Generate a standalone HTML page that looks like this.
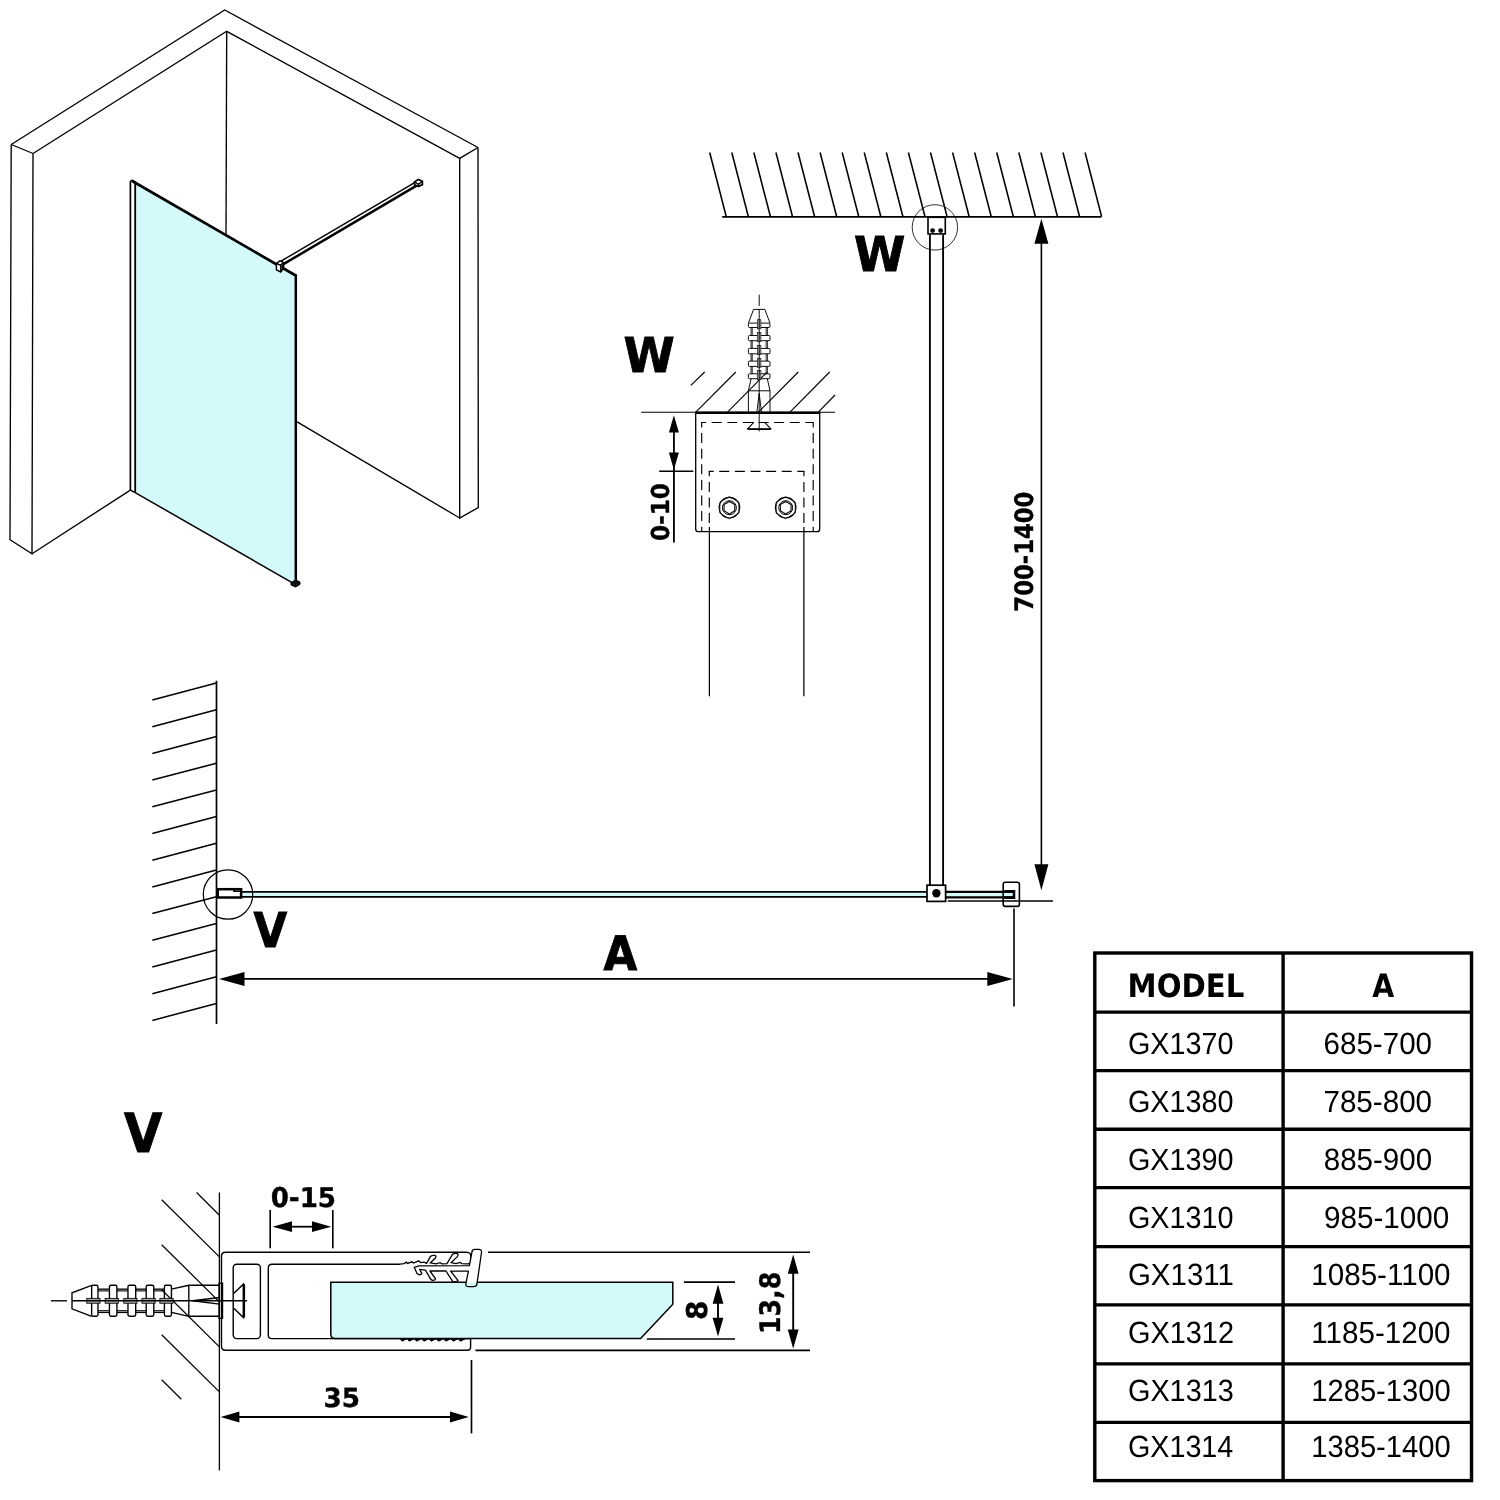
<!DOCTYPE html>
<html lang="cs">
<head>
<meta charset="utf-8">
<title>GX13xx – technical drawing</title>
<style>
html,body{margin:0;padding:0;background:#fff;}
body{width:1500px;height:1500px;overflow:hidden;font-family:"Liberation Sans","DejaVu Sans",sans-serif;}
svg{display:block;filter:contrast(1);}
svg text{fill:#000;stroke:none;text-rendering:geometricPrecision;}
</style>
</head>
<body>
<svg width="1500" height="1500" viewBox="0 0 1500 1500" fill="none" stroke="#000" stroke-linecap="butt" stroke-linejoin="miter">
<rect x="0" y="0" width="1500" height="1500" fill="#fff" stroke="none"/>
<g id="iso">
<polyline points="11.2,144.5 224.7,10 478,147.5" stroke-width="1.35" fill="none"/>
<polyline points="33,153.5 226.7,31.3 459.7,158.3" stroke-width="1.35" fill="none"/>
<polyline points="11.2,144.5 33,153.5" stroke-width="1.35" fill="none"/>
<polyline points="11.2,144.5 10,539.7 32,553.7 33,153.5" stroke-width="1.35" fill="none"/>
<polyline points="478,147.5 459.7,158.3" stroke-width="1.35" fill="none"/>
<polyline points="478,147.5 478.3,507.5 459.7,518 459.7,158.3" stroke-width="1.35" fill="none"/>
<line x1="226.7" y1="31.3" x2="226" y2="236" stroke-width="1.35"/>
<polyline points="32,553.7 130.4,490.1" stroke-width="1.35" fill="none"/>
<polyline points="296.7,421.7 459.7,518" stroke-width="1.35" fill="none"/>
<polyline points="280.9,261.2 415.5,182.2" stroke-width="1.45" fill="none"/>
<polyline points="283,264.4 417,185.4" stroke-width="2.5" fill="none"/>
<polygon points="414.4,182 418.4,179.4 422.4,181.4 422.4,184.6 418.4,186.6 414.6,184.8" stroke-width="1.7" fill="#fff"/>
<polyline points="414.6,182.2 418.4,184 422.4,181.6" stroke-width="1.3" fill="none"/>
<line x1="418.4" y1="184" x2="418.4" y2="186.6" stroke-width="1.6"/>
<polygon points="135.2,182.7 296,275.7 296,584.9 135.2,492.6" stroke-width="0" fill="#d3f9fa" stroke="none"/>
<polyline points="130.4,490.1 130.4,181.6 132.2,180.2 135.6,182.4" stroke-width="1.7" fill="none"/>
<line x1="135.2" y1="183" x2="135.2" y2="492.6" stroke-width="1.8"/>
<line x1="132.2" y1="181" x2="296.6" y2="276" stroke-width="2.7"/>
<line x1="295.8" y1="275" x2="295.8" y2="583" stroke-width="2.5"/>
<polyline points="130.4,490.1 135.2,492.6 295.6,584.7" stroke-width="1.5" fill="none"/>
<polygon points="276.4,263.5 279.9,260.8 283.6,262.4 283.6,268.3 280.7,272 276.4,269.9" stroke-width="1.5" fill="#fff"/>
<polyline points="276.4,263.5 280.7,265.1 283.6,262.4" stroke-width="1.4" fill="none"/>
<line x1="280.7" y1="265.1" x2="280.7" y2="272" stroke-width="1.5"/>
<polygon points="281.4,265.6 283.2,263.8 283.2,268 281.4,270.4" stroke-width="0" fill="#000" stroke="none"/>
<polygon points="291,582.6 295.6,580 300,582 300,584.4 295.6,587 291,585" stroke-width="1" fill="#111"/>
</g>
<g id="plan">
<line x1="709.7" y1="152.5" x2="726.3" y2="216.8" stroke-width="1.55"/>
<line x1="731.78" y1="152.5" x2="748.38" y2="216.8" stroke-width="1.55"/>
<line x1="753.86" y1="152.5" x2="770.46" y2="216.8" stroke-width="1.55"/>
<line x1="775.94" y1="152.5" x2="792.54" y2="216.8" stroke-width="1.55"/>
<line x1="798.02" y1="152.5" x2="814.62" y2="216.8" stroke-width="1.55"/>
<line x1="820.1" y1="152.5" x2="836.7" y2="216.8" stroke-width="1.55"/>
<line x1="842.18" y1="152.5" x2="858.78" y2="216.8" stroke-width="1.55"/>
<line x1="864.26" y1="152.5" x2="880.86" y2="216.8" stroke-width="1.55"/>
<line x1="886.34" y1="152.5" x2="902.94" y2="216.8" stroke-width="1.55"/>
<line x1="908.42" y1="152.5" x2="925.02" y2="216.8" stroke-width="1.55"/>
<line x1="930.5" y1="152.5" x2="947.1" y2="216.8" stroke-width="1.55"/>
<line x1="952.58" y1="152.5" x2="969.18" y2="216.8" stroke-width="1.55"/>
<line x1="974.66" y1="152.5" x2="991.26" y2="216.8" stroke-width="1.55"/>
<line x1="996.74" y1="152.5" x2="1013.34" y2="216.8" stroke-width="1.55"/>
<line x1="1018.82" y1="152.5" x2="1035.42" y2="216.8" stroke-width="1.55"/>
<line x1="1040.9" y1="152.5" x2="1057.5" y2="216.8" stroke-width="1.55"/>
<line x1="1062.98" y1="152.5" x2="1079.58" y2="216.8" stroke-width="1.55"/>
<line x1="1085.06" y1="152.5" x2="1101.66" y2="216.8" stroke-width="1.55"/>
<line x1="722.2" y1="216.9" x2="1101.3" y2="216.9" stroke-width="1.75"/>
<circle cx="934.9" cy="227.4" r="22.7" stroke-width="0.8" fill="none"/>
<rect x="928" y="216.9" width="17.3" height="17" stroke-width="1.6" fill="none"/>
<line x1="927.2" y1="217.1" x2="946.1" y2="217.1" stroke-width="2"/>
<circle cx="932.6" cy="230.6" r="2.4" stroke-width="0" fill="#000" stroke="none"/>
<circle cx="940.6" cy="230.6" r="2.4" stroke-width="0" fill="#000" stroke="none"/>
<line x1="929.9" y1="234.5" x2="929.9" y2="885.4" stroke-width="1.85"/>
<line x1="943.1" y1="234.5" x2="943.1" y2="885.4" stroke-width="1.85"/>
<line x1="1041.4" y1="240" x2="1041.4" y2="868" stroke-width="1.6"/>
<polygon points="1041.4,218.8 1048.4,243.8 1034.4,243.8" fill="#000" stroke="none"/>
<polygon points="1041.4,890.2 1034.4,864.2 1048.4,864.2" fill="#000" stroke="none"/>
<text transform="translate(1032.94 611.66) rotate(-90) scale(0.8893 1)" font-family="'DejaVu Sans', 'Liberation Sans', sans-serif" font-weight="bold" font-size="25.54" style="stroke:#000;stroke-width:0.35px;stroke-linejoin:miter">700-1400</text>
<text transform="translate(853.95 271.05) scale(0.9703 1)" font-family="'DejaVu Sans', 'Liberation Sans', sans-serif" font-weight="bold" font-size="47.95" style="stroke:#000;stroke-width:0.9px;stroke-linejoin:miter">W</text>
<line x1="152.3" y1="700" x2="216.4" y2="683.1" stroke-width="1.5"/>
<line x1="152.3" y1="726.7" x2="216.4" y2="709.8" stroke-width="1.5"/>
<line x1="152.3" y1="753.4" x2="216.4" y2="736.5" stroke-width="1.5"/>
<line x1="152.3" y1="780.1" x2="216.4" y2="763.2" stroke-width="1.5"/>
<line x1="152.3" y1="806.8" x2="216.4" y2="789.9" stroke-width="1.5"/>
<line x1="152.3" y1="833.5" x2="216.4" y2="816.6" stroke-width="1.5"/>
<line x1="152.3" y1="860.2" x2="216.4" y2="843.3" stroke-width="1.5"/>
<line x1="152.3" y1="886.9" x2="216.4" y2="870" stroke-width="1.5"/>
<line x1="152.3" y1="913.6" x2="216.4" y2="896.7" stroke-width="1.5"/>
<line x1="152.3" y1="940.3" x2="216.4" y2="923.4" stroke-width="1.5"/>
<line x1="152.3" y1="967" x2="216.4" y2="950.1" stroke-width="1.5"/>
<line x1="152.3" y1="993.7" x2="216.4" y2="976.8" stroke-width="1.5"/>
<line x1="152.3" y1="1020.4" x2="216.4" y2="1003.5" stroke-width="1.5"/>
<line x1="216.5" y1="680.7" x2="216.5" y2="1024" stroke-width="1.7"/>
<rect x="241.3" y="891.6" width="771.7" height="5.6" stroke-width="0" fill="#d3f9fa" stroke="none"/>
<line x1="241.3" y1="891.8" x2="927" y2="891.8" stroke-width="1.8"/>
<line x1="241.3" y1="896.9" x2="927" y2="896.9" stroke-width="1.8"/>
<line x1="945.6" y1="891.8" x2="1013" y2="891.8" stroke-width="2.3"/>
<line x1="945.6" y1="897.3" x2="1013" y2="897.3" stroke-width="2.3"/>
<circle cx="228" cy="894.5" r="24.7" stroke-width="1.2" fill="none"/>
<rect x="217.7" y="889.2" width="23.4" height="8.3" stroke-width="2.5" fill="#fff"/>
<polyline points="234,889.6 234,891.2 240,891.2" stroke-width="1.6" fill="none"/>
<rect x="927" y="885.2" width="18.6" height="16.2" stroke-width="1.7" fill="#fff"/>
<circle cx="936.4" cy="893.2" r="4.2" stroke-width="0" fill="#000" stroke="none"/>
<line x1="947.8" y1="901" x2="1053" y2="901" stroke-width="1.6"/>
<rect x="1003.2" y="882.2" width="16.2" height="24.2" rx="2.2" stroke-width="1.6" fill="none"/>
<polyline points="1004.4,891.4 1014,891.4 1014,897.6 1004.4,897.6" stroke-width="2.6" fill="none"/>
<line x1="1014" y1="908.4" x2="1014" y2="1006.6" stroke-width="1.6"/>
<line x1="240" y1="978.9" x2="990" y2="978.9" stroke-width="1.6"/>
<polygon points="219,979 244.5,972 244.5,986" fill="#000" stroke="none"/>
<polygon points="1012.8,979 987.3,986 987.3,972" fill="#000" stroke="none"/>
<text transform="translate(603.43 969.65) scale(0.9160 1)" font-family="'DejaVu Sans', 'Liberation Sans', sans-serif" font-weight="bold" font-size="47.53" style="stroke:#000;stroke-width:0.9px;stroke-linejoin:miter">A</text>
<text transform="translate(253.43 947.05) scale(0.9081 1)" font-family="'DejaVu Sans', 'Liberation Sans', sans-serif" font-weight="bold" font-size="47.95" style="stroke:#000;stroke-width:0.9px;stroke-linejoin:miter">V</text>
</g>
<g id="detW">
<text transform="translate(623.46 371.55) scale(0.9656 1)" font-family="'DejaVu Sans', 'Liberation Sans', sans-serif" font-weight="bold" font-size="48.08" style="stroke:#000;stroke-width:0.9px;stroke-linejoin:miter">W</text>
<line x1="690.8" y1="385.3" x2="704.7" y2="372" stroke-width="1.15"/>
<line x1="695.8" y1="412.2" x2="735.8" y2="372" stroke-width="1.15"/>
<line x1="727.5" y1="412.2" x2="766.7" y2="372.5" stroke-width="1.15"/>
<line x1="758.3" y1="412.2" x2="798.3" y2="372" stroke-width="1.15"/>
<line x1="790" y1="412.2" x2="829.7" y2="372" stroke-width="1.15"/>
<line x1="818.3" y1="412.2" x2="835" y2="395" stroke-width="1.15"/>
<line x1="641.3" y1="412.2" x2="835" y2="412.2" stroke-width="1.1"/>
<g transform="translate(759.2 309.4)">
<line x1="0" y1="-14.7" x2="0" y2="-3.5" stroke-width="0.95"/>
<polyline points="-10.8,13.7 -5.6,0 5.6,0 10.8,13.7" stroke-width="0.95" fill="none"/>
<rect x="-10.8" y="13.7" width="21.6" height="4.4" rx="1" stroke-width="0.95" fill="none"/>
<rect x="-1.7" y="10.3" width="3.4" height="9.2" stroke-width="0.6" fill="#aaa"/>
<rect x="-10.8" y="26.1" width="21.6" height="5.2" rx="1" stroke-width="0.95" fill="none"/>
<line x1="-8.1" y1="18.1" x2="-8.1" y2="26.1" stroke-width="0.95"/>
<line x1="8.1" y1="18.1" x2="8.1" y2="26.1" stroke-width="0.95"/>
<line x1="-6.9" y1="18.1" x2="-6.9" y2="26.1" stroke-width="0.76"/>
<line x1="6.9" y1="18.1" x2="6.9" y2="26.1" stroke-width="0.76"/>
<rect x="-1.7" y="23.1" width="3.4" height="9.2" stroke-width="0.6" fill="#aaa"/>
<rect x="-10.8" y="39" width="21.6" height="5.4" rx="1" stroke-width="0.95" fill="none"/>
<line x1="-8.1" y1="31.3" x2="-8.1" y2="39" stroke-width="0.95"/>
<line x1="8.1" y1="31.3" x2="8.1" y2="39" stroke-width="0.95"/>
<line x1="-6.9" y1="31.3" x2="-6.9" y2="39" stroke-width="0.76"/>
<line x1="6.9" y1="31.3" x2="6.9" y2="39" stroke-width="0.76"/>
<rect x="-1.7" y="36.1" width="3.4" height="9.2" stroke-width="0.6" fill="#aaa"/>
<rect x="-10.8" y="51.7" width="21.6" height="5.3" rx="1" stroke-width="0.95" fill="none"/>
<line x1="-8.1" y1="44.4" x2="-8.1" y2="51.7" stroke-width="0.95"/>
<line x1="8.1" y1="44.4" x2="8.1" y2="51.7" stroke-width="0.95"/>
<line x1="-6.9" y1="44.4" x2="-6.9" y2="51.7" stroke-width="0.76"/>
<line x1="6.9" y1="44.4" x2="6.9" y2="51.7" stroke-width="0.76"/>
<rect x="-1.7" y="48.75" width="3.4" height="9.2" stroke-width="0.6" fill="#aaa"/>
<rect x="-10.8" y="64.4" width="21.6" height="4.9" rx="1" stroke-width="0.95" fill="none"/>
<line x1="-8.1" y1="57" x2="-8.1" y2="64.4" stroke-width="0.95"/>
<line x1="8.1" y1="57" x2="8.1" y2="64.4" stroke-width="0.95"/>
<line x1="-6.9" y1="57" x2="-6.9" y2="64.4" stroke-width="0.76"/>
<line x1="6.9" y1="57" x2="6.9" y2="64.4" stroke-width="0.76"/>
<rect x="-1.7" y="61.25" width="3.4" height="9.2" stroke-width="0.6" fill="#aaa"/>
<polyline points="-8.1,69.3 -10.8,81.4 -10.8,102.9" stroke-width="0.95" fill="none"/>
<polyline points="8.1,69.3 10.8,81.4 10.8,102.9" stroke-width="0.95" fill="none"/>
<line x1="-10.8" y1="81.4" x2="10.8" y2="81.4" stroke-width="0.95"/>
<line x1="0" y1="0" x2="0" y2="122" stroke-width="0.95"/>
<polyline points="-2.3,102.9 0,84 2.3,102.9" stroke-width="0.95" fill="none"/>
<polyline points="-5.2,112.8 -11.6,119.4 11.6,119.4 5.2,112.8" stroke-width="1.04" fill="none"/>
<line x1="-11.6" y1="120" x2="11.6" y2="120" stroke-width="1.23"/>
</g>
<path d="M695.7 412.8 V529 Q695.7 531.7 698.4 531.7 H817 Q819.7 531.7 819.7 529 V412.8" stroke-width="1.3" fill="none"/>
<line x1="695.1" y1="412.8" x2="820.3" y2="412.8" stroke-width="2.6"/>
<line x1="701.1" y1="422.5" x2="813.8" y2="422.5" stroke-width="1.15" stroke-dasharray="10 5.6" stroke-dashoffset="5"/>
<line x1="701.7" y1="422.5" x2="701.7" y2="531.7" stroke-width="1.15" stroke-dasharray="10 5.6" stroke-dashoffset="5"/>
<line x1="813.2" y1="422.5" x2="813.2" y2="531.7" stroke-width="1.15" stroke-dasharray="10 5.6" stroke-dashoffset="5"/>
<line x1="708.7" y1="471.3" x2="804.5" y2="471.3" stroke-width="1.15" stroke-dasharray="10 5.6" stroke-dashoffset="5"/>
<line x1="709.3" y1="471.3" x2="709.3" y2="527" stroke-width="1.15" stroke-dasharray="10 5.6" stroke-dashoffset="5"/>
<line x1="803.9" y1="471.3" x2="803.9" y2="527" stroke-width="1.15" stroke-dasharray="10 5.6" stroke-dashoffset="5"/>
<line x1="709.4" y1="527" x2="709.4" y2="696.3" stroke-width="1.25"/>
<line x1="803.9" y1="527" x2="803.9" y2="696.3" stroke-width="1.25"/>
<circle cx="729.4" cy="507.7" r="10.3" stroke-width="1.1" fill="none"/>
<polygon points="738.93,513.2 729.4,518.7 719.87,513.2 719.87,502.2 729.4,496.7 738.93,502.2" stroke-width="0.8" fill="none"/>
<circle cx="729.4" cy="507.7" r="7" stroke-width="1" fill="none"/>
<polygon points="734.77,510.8 729.4,513.9 724.03,510.8 724.03,504.6 729.4,501.5 734.77,504.6" stroke-width="1.1" fill="none"/>
<circle cx="785.7" cy="507.7" r="10.3" stroke-width="1.1" fill="none"/>
<polygon points="795.23,513.2 785.7,518.7 776.17,513.2 776.17,502.2 785.7,496.7 795.23,502.2" stroke-width="0.8" fill="none"/>
<circle cx="785.7" cy="507.7" r="7" stroke-width="1" fill="none"/>
<polygon points="791.07,510.8 785.7,513.9 780.33,510.8 780.33,504.6 785.7,501.5 791.07,504.6" stroke-width="1.1" fill="none"/>
<line x1="673.9" y1="430" x2="673.9" y2="542.5" stroke-width="1.85"/>
<polygon points="673.9,415.2 678.9,432.6 668.9,432.6" fill="#000" stroke="none"/>
<polygon points="673.9,469.8 668.9,452.4 678.9,452.4" fill="#000" stroke="none"/>
<line x1="659.2" y1="471.2" x2="693.3" y2="471.2" stroke-width="1.6"/>
<text transform="translate(669.45 540.92) rotate(-90) scale(0.9339 1)" font-family="'DejaVu Sans', 'Liberation Sans', sans-serif" font-weight="bold" font-size="24.75" style="stroke:#000;stroke-width:0.35px;stroke-linejoin:miter">0-10</text>
</g>
<g id="detV">
<text transform="translate(123.9 1151.65) scale(0.9185 1)" font-family="'DejaVu Sans', 'Liberation Sans', sans-serif" font-weight="bold" font-size="53.97" style="stroke:#000;stroke-width:0.9px;stroke-linejoin:miter">V</text>
<line x1="196.6" y1="1192.5" x2="219.4" y2="1215.3" stroke-width="1.25"/>
<line x1="161.7" y1="1199.7" x2="219.4" y2="1256.9" stroke-width="1.25"/>
<line x1="161.7" y1="1244.7" x2="219.4" y2="1301.9" stroke-width="1.25"/>
<line x1="161.7" y1="1289.7" x2="219.4" y2="1346.9" stroke-width="1.25"/>
<line x1="161.7" y1="1334.7" x2="219.4" y2="1391.9" stroke-width="1.25"/>
<line x1="161.7" y1="1379.7" x2="181.3" y2="1399.3" stroke-width="1.25"/>
<line x1="219.4" y1="1192.5" x2="219.4" y2="1470.4" stroke-width="1.3"/>
<g transform="translate(72 1300.8) rotate(-90) scale(1.435 1.435) scale(-1 1)">
<line x1="0" y1="-14.7" x2="0" y2="-3.5" stroke-width="0.95"/>
<polyline points="-10.8,13.7 -5.6,0 5.6,0 10.8,13.7" stroke-width="0.95" fill="none"/>
<rect x="-10.8" y="13.7" width="21.6" height="4.4" rx="1" stroke-width="0.95" fill="none"/>
<rect x="-1.7" y="10.3" width="3.4" height="9.2" stroke-width="0.6" fill="#aaa"/>
<rect x="-10.8" y="26.1" width="21.6" height="5.2" rx="1" stroke-width="0.95" fill="none"/>
<line x1="-8.1" y1="18.1" x2="-8.1" y2="26.1" stroke-width="0.95"/>
<line x1="8.1" y1="18.1" x2="8.1" y2="26.1" stroke-width="0.95"/>
<line x1="-6.9" y1="18.1" x2="-6.9" y2="26.1" stroke-width="0.76"/>
<line x1="6.9" y1="18.1" x2="6.9" y2="26.1" stroke-width="0.76"/>
<rect x="-1.7" y="23.1" width="3.4" height="9.2" stroke-width="0.6" fill="#aaa"/>
<rect x="-10.8" y="39" width="21.6" height="5.4" rx="1" stroke-width="0.95" fill="none"/>
<line x1="-8.1" y1="31.3" x2="-8.1" y2="39" stroke-width="0.95"/>
<line x1="8.1" y1="31.3" x2="8.1" y2="39" stroke-width="0.95"/>
<line x1="-6.9" y1="31.3" x2="-6.9" y2="39" stroke-width="0.76"/>
<line x1="6.9" y1="31.3" x2="6.9" y2="39" stroke-width="0.76"/>
<rect x="-1.7" y="36.1" width="3.4" height="9.2" stroke-width="0.6" fill="#aaa"/>
<rect x="-10.8" y="51.7" width="21.6" height="5.3" rx="1" stroke-width="0.95" fill="none"/>
<line x1="-8.1" y1="44.4" x2="-8.1" y2="51.7" stroke-width="0.95"/>
<line x1="8.1" y1="44.4" x2="8.1" y2="51.7" stroke-width="0.95"/>
<line x1="-6.9" y1="44.4" x2="-6.9" y2="51.7" stroke-width="0.76"/>
<line x1="6.9" y1="44.4" x2="6.9" y2="51.7" stroke-width="0.76"/>
<rect x="-1.7" y="48.75" width="3.4" height="9.2" stroke-width="0.6" fill="#aaa"/>
<rect x="-10.8" y="64.4" width="21.6" height="4.9" rx="1" stroke-width="0.95" fill="none"/>
<line x1="-8.1" y1="57" x2="-8.1" y2="64.4" stroke-width="0.95"/>
<line x1="8.1" y1="57" x2="8.1" y2="64.4" stroke-width="0.95"/>
<line x1="-6.9" y1="57" x2="-6.9" y2="64.4" stroke-width="0.76"/>
<line x1="6.9" y1="57" x2="6.9" y2="64.4" stroke-width="0.76"/>
<rect x="-1.7" y="61.25" width="3.4" height="9.2" stroke-width="0.6" fill="#aaa"/>
<polyline points="-8.1,69.3 -10.8,81.4 -10.8,102.9" stroke-width="0.95" fill="none"/>
<polyline points="8.1,69.3 10.8,81.4 10.8,102.9" stroke-width="0.95" fill="none"/>
<line x1="-10.8" y1="81.4" x2="10.8" y2="81.4" stroke-width="0.95"/>
<line x1="0" y1="0" x2="0" y2="122" stroke-width="0.95"/>
<polyline points="-2.3,102.9 0,84 2.3,102.9" stroke-width="0.95" fill="none"/>
<polyline points="-5.2,112.8 -11.6,119.4 11.6,119.4 5.2,112.8" stroke-width="1.04" fill="none"/>
<line x1="-11.6" y1="120" x2="11.6" y2="120" stroke-width="1.23"/>
</g>
<rect x="219" y="1283.2" width="3.6" height="35.2" stroke-width="1.2" fill="none"/>
<path d="M470.6 1338.6 V1347 Q470.6 1350.2 467.4 1350.2 H225.5 Q221.5 1350.2 221.5 1346.2 V1256.2 Q221.5 1252.3 225.5 1252.3 H467" stroke-width="1.4" fill="none"/>
<rect x="233.2" y="1264.2" width="27.2" height="74.4" rx="3.5" stroke-width="1.4" fill="none"/>
<path d="M400 1264.2 H272 Q268.3 1264.2 268.3 1268 V1335 Q268.3 1338.6 272 1338.6 H470.6" stroke-width="1.4" fill="none"/>
<path d="M330.8 1282.2 H672.8 V1304.3 L640.6 1338.5 H335 Q330.8 1338.5 330.8 1334 Z" stroke-width="1.5" fill="#d3f9fa"/>
<path d="M400 1338.6 L402 1341.2 L407 1338.8 L409.3 1341.2 L414.3 1338.8 L416.6 1341.2 L421.6 1338.8 L423.9 1341.2 L428.9 1338.8 L431.2 1341.2 L436.2 1338.8 L438.5 1341.2 L443.5 1338.8 L445.8 1341.2 L450.8 1338.8 L453.1 1341.2 L458.1 1338.8 L460.4 1341.2 L465.4 1338.8" stroke-width="0.9" fill="#000"/>
<path d="M400 1264.2 L404 1263.6 L406.4 1262.2 L407.4 1263.4 L412 1261.8 L413.6 1263 L418.6 1260.8 L420.6 1262.6 L424 1262.2 L426.6 1263.4 L430.4 1256.4 Q432 1255 435 1255.4 Q436.6 1256.4 435.4 1258 L430.4 1262.8 L436 1263.8 L440 1262.6 L442 1263.8 L447 1263.6 L452.4 1254.4 Q454.4 1253 457.4 1253.6 Q458.8 1254.8 457.6 1256.4 L451.2 1262.6 L456 1263.6 L460 1262.4 L462 1263.6 L466 1263.8 H468 Q470.6 1263.8 470.8 1261 V1256 Q470.6 1252.3 467 1252.3" stroke-width="1.3" fill="none"/>
<path d="M471.9 1252.3 Q471.9 1249.3 474.9 1249.3 H478.7 Q481.9 1249.3 481.5 1252.5 L477 1283.7 Q476.6 1286.7 473.6 1286.7 H468.7 Q465.5 1286.7 465.9 1283.5 L468.4 1271.2 H450.6 L458 1280.4 L456.6 1281.6 L452.6 1281.4 L446 1271 H430 L435.6 1278.8 Q435 1280.6 432.6 1280.4 L431 1279.6 L425.4 1270.2 L419.6 1269.4 L421.8 1273.2 Q421 1275.2 418.6 1274.6 L417 1273.4 L414.3 1267.4 L419 1265.9 L469.4 1265.7 Z" stroke-width="1.3" fill="#fff" stroke-linejoin="round"/>
<polygon points="467.4,1283 476,1283 475.6,1285 474.6,1285.6 468.6,1285.6 467.2,1284.6" stroke-width="0" fill="#d3f9fa" stroke="none"/>
<line x1="488" y1="1252.2" x2="810" y2="1252.2" stroke-width="1.65"/>
<line x1="475.4" y1="1350.3" x2="810" y2="1350.3" stroke-width="1.65"/>
<line x1="684" y1="1282.1" x2="735" y2="1282.1" stroke-width="1.65"/>
<line x1="646.8" y1="1339" x2="735" y2="1339" stroke-width="1.65"/>
<line x1="718" y1="1300" x2="718" y2="1322" stroke-width="1.9"/>
<polygon points="718,1284.6 723.4,1303.8 712.6,1303.8" fill="#000" stroke="none"/>
<polygon points="718,1336.6 712.6,1317.8 723.4,1317.8" fill="#000" stroke="none"/>
<text transform="translate(707.2 1320.1) rotate(-90) scale(0.9766 1)" font-family="'DejaVu Sans', 'Liberation Sans', sans-serif" font-weight="bold" font-size="28.58" style="stroke:#000;stroke-width:0.35px;stroke-linejoin:miter">8</text>
<line x1="793.2" y1="1270" x2="793.2" y2="1333" stroke-width="1.9"/>
<polygon points="793.2,1254.6 798.6,1273.7 787.8,1273.7" fill="#000" stroke="none"/>
<polygon points="793.2,1348.7 787.8,1329.6 798.6,1329.6" fill="#000" stroke="none"/>
<text transform="translate(780.17 1334.07) rotate(-90) scale(0.8947 1)" font-family="'DejaVu Sans', 'Liberation Sans', sans-serif" font-weight="bold" font-size="28.27" style="stroke:#000;stroke-width:0.35px;stroke-linejoin:miter">13,8</text>
<line x1="270.2" y1="1210" x2="270.2" y2="1248.3" stroke-width="1.65"/>
<line x1="332.8" y1="1210" x2="332.8" y2="1248.3" stroke-width="1.65"/>
<line x1="290" y1="1226.7" x2="314" y2="1226.7" stroke-width="1.8"/>
<polygon points="272.6,1226.7 292,1221.3 292,1232.1" fill="#000" stroke="none"/>
<polygon points="331.2,1226.7 312,1232.1 312,1221.3" fill="#000" stroke="none"/>
<text transform="translate(270.63 1207.12) scale(0.9590 1)" font-family="'DejaVu Sans', 'Liberation Sans', sans-serif" font-weight="bold" font-size="27.26" style="stroke:#000;stroke-width:0.35px;stroke-linejoin:miter">0-15</text>
<line x1="471.5" y1="1360" x2="471.5" y2="1433.4" stroke-width="1.65"/>
<line x1="238" y1="1417" x2="452" y2="1417" stroke-width="1.8"/>
<polygon points="220.6,1417 239.4,1411.6 239.4,1422.4" fill="#000" stroke="none"/>
<polygon points="468.8,1417 450,1422.4 450,1411.6" fill="#000" stroke="none"/>
<text transform="translate(323.4 1406.53) scale(0.9959 1)" font-family="'DejaVu Sans', 'Liberation Sans', sans-serif" font-weight="bold" font-size="26.34" style="stroke:#000;stroke-width:0.35px;stroke-linejoin:miter">35</text>
</g>
<g id="table">
<rect x="1094.8" y="953" width="376.7" height="527.6" stroke-width="3.4" fill="none"/>
<line x1="1094.8" y1="1012.1" x2="1471.5" y2="1012.1" stroke-width="3.4"/>
<line x1="1094.8" y1="1070.6" x2="1471.5" y2="1070.6" stroke-width="3.4"/>
<line x1="1094.8" y1="1129.2" x2="1471.5" y2="1129.2" stroke-width="3.4"/>
<line x1="1094.8" y1="1187.6" x2="1471.5" y2="1187.6" stroke-width="3.4"/>
<line x1="1094.8" y1="1246.6" x2="1471.5" y2="1246.6" stroke-width="3.4"/>
<line x1="1094.8" y1="1304.9" x2="1471.5" y2="1304.9" stroke-width="3.4"/>
<line x1="1094.8" y1="1363.9" x2="1471.5" y2="1363.9" stroke-width="3.4"/>
<line x1="1094.8" y1="1422.4" x2="1471.5" y2="1422.4" stroke-width="3.4"/>
<line x1="1283.1" y1="953" x2="1283.1" y2="1480.6" stroke-width="3.4"/>
<text transform="translate(1127.6 996.5) scale(0.9075 1)" font-family="'DejaVu Sans', 'Liberation Sans', sans-serif" font-weight="bold" font-size="32.19">MODEL</text>
<text transform="translate(1372.26 996.5) scale(0.8840 1)" font-family="'DejaVu Sans', 'Liberation Sans', sans-serif" font-weight="bold" font-size="32.19">A</text>
<text transform="translate(1127.96 1054.09) scale(0.9389 1)" font-family="'Liberation Sans', sans-serif" font-weight="normal" font-size="30.67">GX1370</text>
<text transform="translate(1323.52 1054.09) scale(0.9647 1)" font-family="'Liberation Sans', sans-serif" font-weight="normal" font-size="30.67">685-700</text>
<text transform="translate(1127.96 1111.99) scale(0.9389 1)" font-family="'Liberation Sans', sans-serif" font-weight="normal" font-size="30.67">GX1380</text>
<text transform="translate(1323.45 1111.99) scale(0.9654 1)" font-family="'Liberation Sans', sans-serif" font-weight="normal" font-size="30.67">785-800</text>
<text transform="translate(1127.96 1169.89) scale(0.9389 1)" font-family="'Liberation Sans', sans-serif" font-weight="normal" font-size="30.67">GX1390</text>
<text transform="translate(1323.75 1169.89) scale(0.9627 1)" font-family="'Liberation Sans', sans-serif" font-weight="normal" font-size="30.67">885-900</text>
<text transform="translate(1127.96 1227.69) scale(0.9389 1)" font-family="'Liberation Sans', sans-serif" font-weight="normal" font-size="30.67">GX1310</text>
<text transform="translate(1323.89 1227.69) scale(0.9679 1)" font-family="'Liberation Sans', sans-serif" font-weight="normal" font-size="30.67">985-1000</text>
<text transform="translate(1127.93 1285.49) scale(0.9611 1)" font-family="'Liberation Sans', sans-serif" font-weight="normal" font-size="30.67">GX1311</text>
<text transform="translate(1311.28 1285.49) scale(0.9650 1)" font-family="'Liberation Sans', sans-serif" font-weight="normal" font-size="30.67">1085-1100</text>
<text transform="translate(1127.96 1343.29) scale(0.9422 1)" font-family="'Liberation Sans', sans-serif" font-weight="normal" font-size="30.67">GX1312</text>
<text transform="translate(1311.28 1343.29) scale(0.9650 1)" font-family="'Liberation Sans', sans-serif" font-weight="normal" font-size="30.67">1185-1200</text>
<text transform="translate(1127.96 1401.09) scale(0.9403 1)" font-family="'Liberation Sans', sans-serif" font-weight="normal" font-size="30.67">GX1313</text>
<text transform="translate(1311.31 1401.09) scale(0.9500 1)" font-family="'Liberation Sans', sans-serif" font-weight="normal" font-size="30.67">1285-1300</text>
<text transform="translate(1127.96 1457.09) scale(0.9363 1)" font-family="'Liberation Sans', sans-serif" font-weight="normal" font-size="30.67">GX1314</text>
<text transform="translate(1311.31 1457.09) scale(0.9500 1)" font-family="'Liberation Sans', sans-serif" font-weight="normal" font-size="30.67">1385-1400</text>
</g>
</svg>
</body>
</html>
